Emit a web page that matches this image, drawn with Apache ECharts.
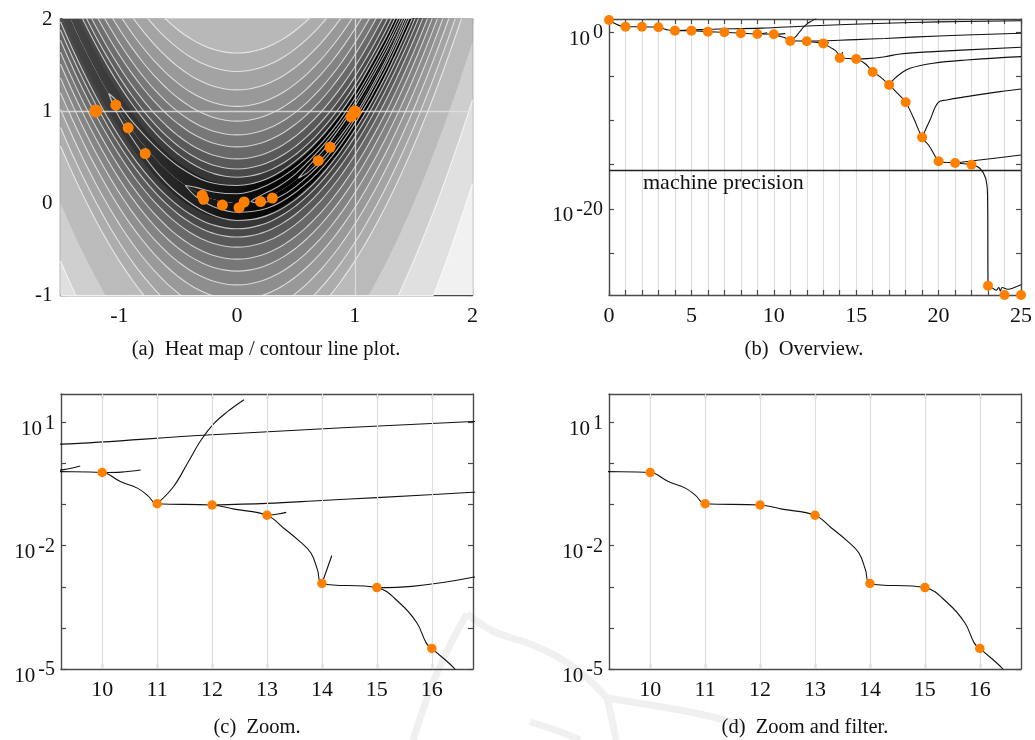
<!DOCTYPE html>
<html>
<head>
<meta charset="utf-8">
<title>Rosenbrock optimisation figure</title>
<script src="https://cdn.jsdelivr.net/npm/echarts@6/dist/echarts.min.js"></script>
<style>
  html, body { margin: 0; padding: 0; background: #fff; }
  #chart { width: 1035px; height: 740px; }
</style>
</head>
<body>
<div id="chart"></div>
<script>
// ---------- (a) heat map / contour lines ----------
// bottom of the valley, read along the dark band
var valleyX = [-1.5, -1.4, -1.3, -1.2, -1.1, -1.0, -0.9, -0.8, -0.7, -0.6, -0.5, -0.4, -0.3, -0.2, -0.1, 0,
  0.1, 0.2, 0.3, 0.4, 0.5, 0.6, 0.7, 0.8, 0.9, 1.0, 1.1, 1.2, 1.3, 1.4, 1.5, 1.6, 1.7, 1.8, 1.9, 2.0];
var valleyY = [2.25, 1.96, 1.69, 1.44, 1.21, 1.0, 0.81, 0.64, 0.49, 0.36, 0.25, 0.16, 0.09, 0.04, 0.01, 0,
  0.01, 0.04, 0.09, 0.16, 0.25, 0.36, 0.49, 0.64, 0.81, 1.0, 1.21, 1.44, 1.69, 1.96, 2.25, 2.56, 2.89, 3.24, 3.61, 4.0];
// vertical distance of the contour lines from the valley
var contourOffsets = [0.28, 0.37, 0.48, 0.61, 0.74, 0.89, 1.05, 1.23, 1.43, 1.63];
var farOffsets = [2.88, 3.79]; // only below the valley (lower right / lower left)
// closed contour loops around the valley
var loopA = [[1.35, 2.03], [1.25, 1.77], [1.0, 1.21], [0.75, 0.77], [0.5, 0.46], [0.25, 0.26], [0, 0.19], [-0.25, 0.23],
  [-0.5, 0.4], [-0.7, 0.62], [-0.9, 0.9], [-1.03, 1.12], [-1.09, 1.19], [-1.03, 1.0], [-0.9, 0.72], [-0.7, 0.36],
  [-0.5, 0.1], [-0.25, -0.11], [0, -0.19], [0.25, -0.14], [0.5, 0.04], [0.75, 0.35], [1.0, 0.79], [1.25, 1.35], [1.5, 2.04]];
var loopB = [[1.4, 2.1], [1.25, 1.7], [1.0, 1.14], [0.75, 0.7], [0.5, 0.39], [0.25, 0.19], [0, 0.1], [-0.2, 0.12],
  [-0.35, 0.17], [-0.44, 0.19], [-0.35, 0.07], [-0.2, -0.04], [0, -0.1], [0.25, -0.06], [0.5, 0.12], [0.75, 0.42],
  [1.0, 0.86], [1.25, 1.42], [1.5, 2.12]];
var loopC = [[1.4, 2.04], [1.25, 1.65], [1.0, 1.09], [0.75, 0.65], [0.5, 0.32], [0.35, 0.18], [0.2, 0.08], [0.12, 0.015],
  [0.2, 0.0], [0.35, 0.06], [0.5, 0.18], [0.75, 0.48], [1.0, 0.91], [1.25, 1.48], [1.4, 1.88], [1.5, 2.18]];
var loopD = [[1.42, 2.04], [1.25, 1.6], [1.0, 1.05], [0.75, 0.6], [0.6, 0.39], [0.52, 0.27], [0.6, 0.33], [0.75, 0.52],
  [1.0, 0.95], [1.25, 1.52], [1.4, 1.93], [1.48, 2.18]];
// iterates in the x/y plane
var iterPlaneX = [-1.2, -1.03, -0.925, -0.78, -0.296, -0.284, -0.125, 0.017, 0.06, 0.2, 0.30, 0.69, 0.79, 0.967, 1.0];
var iterPlaneY = [1.0, 1.065, 0.817, 0.537, 0.083, 0.04, -0.022, -0.051, 0.011, 0.015, 0.054, 0.46, 0.606, 0.936, 0.99];
var optimum = [1, 1];

// ---------- (b)-(d) residual per iteration, log10 ----------
var iterX = [0, 1, 2, 3, 4, 5, 6, 7, 8, 9, 10, 11, 12, 13, 14, 15, 16, 17, 18, 19, 20, 21, 22, 23, 24, 25];
var iterLog = [1.39, 0.63, 0.63, 0.57, 0.18, 0.18, 0.07, 0.0, -0.11, -0.19, -0.22, -0.98, -1.01, -1.26, -2.92,
  -3.02, -4.5, -5.96, -7.92, -11.9, -14.6, -14.8, -15.0, -28.7, -29.75, -29.75];
// accepted path between the iterates
var pathX = [0, 1, 2, 3, 3.5, 4, 5, 6, 7, 8, 9, 10, 10.33, 10.64, 10.82, 11, 12, 12.4, 13, 13.3, 13.6, 13.8, 13.92, 14,
  15, 15.42, 15.73, 15.9, 16, 16.42, 17, 17.5, 18, 18.5, 19, 19.4, 19.75, 20, 21, 22, 22.5, 22.85, 22.97, 23.0, 23.3,
  23.5, 23.65, 23.75, 23.85, 24.2, 24.6, 25];
var pathY = [1.39, 0.63, 0.63, 0.57, 0.3, 0.18, 0.18, 0.07, 0.0, -0.11, -0.19, -0.22, -0.44, -0.6, -0.77, -0.98, -1.01,
  -1.11, -1.26, -1.57, -1.9, -2.18, -2.59, -2.92, -3.02, -3.4, -3.88, -4.37, -4.5, -5.0, -5.96, -6.9, -7.92, -9.8,
  -11.9, -12.8, -13.9, -14.6, -14.8, -15.0, -15.4, -16.5, -18.5, -28.7, -29.0, -29.2, -28.9, -29.3, -28.9, -29.1,
  -28.9, -28.6];
// discarded branches
var br4X = [4, 6, 9.25, 12, 16.75, 20, 25], br4Y = [0.18, 0.34, 0.47, 0.7, 1.02, 1.17, 1.31];
var br9X = [9, 9.3, 9.6], br9Y = [-0.19, -0.15, -0.06];
var br10X = [10, 10.35, 10.7], br10Y = [-0.22, -0.21, -0.16];
var br11X = [11, 11.3, 11.55, 11.8, 12.04, 12.28, 12.58], br11Y = [-0.98, -0.56, 0.0, 0.57, 0.98, 1.26, 1.55];
var br12X = [12, 13, 14, 15, 16.75, 20, 25], br12Y = [-1.01, -0.97, -0.9, -0.83, -0.7, -0.42, -0.11];
var br13X = [13, 13.2, 13.35], br13Y = [-1.26, -1.23, -1.19];
var br14X = [14, 14.18], br14Y = [-2.92, -2.24];
var br15X = [15, 15.64, 16.75, 17.66, 19.68, 25], br15Y = [-3.02, -2.99, -2.77, -2.46, -2.19, -1.7];
var br17X = [17, 17.25, 17.66, 18.26, 19.68, 21.7, 25], br17Y = [-5.96, -5.4, -4.72, -4.08, -3.51, -3.14, -2.76];
var br19X = [19, 19.48, 19.98, 20.49, 21.7, 23.73, 25], br19Y = [-11.9, -9.93, -7.93, -7.67, -7.29, -6.72, -6.42];
var br21X = [21, 23, 25], br21Y = [-14.8, -14.35, -13.9];
var machinePrecision = -15.65;
var zoomGridX = [10, 11, 12, 13, 14, 15, 16];

var FONT = 'Liberation Serif';
var AX = '#4a4a4a';
var ORANGE = '#ff8000';

function zip(xs, ys) { return xs.map(function (x, i) { return [x, ys[i]]; }); }
function shifted(off) { return valleyX.map(function (x, i) { return [x, valleyY[i] + off]; }); }
function gray(g) { return 'rgb(' + g + ',' + g + ',' + g + ')'; }
function hgrad(stops) {
  return { type: 'linear', x: 0, y: 0, x2: 1, y2: 0,
    colorStops: stops.map(function (s) { return { offset: s[0], color: s[1] }; }) };
}
function pow10(v) { return '{b|10}{s|' + v + '}'; }
var powRich = {
  b: { fontFamily: FONT, fontSize: 21, color: '#111' },
  s: { fontFamily: FONT, fontSize: 20, color: '#111', padding: [0, 0, 12, 3] }
};

function mkAxis(gi, pos, min, max, ticks, labels, fmt, extra) {
  var a = {
    type: 'value', gridIndex: gi, position: pos, min: min, max: max,
    axisLine: { show: true, onZero: false, lineStyle: { color: AX, width: 1.4 } },
    axisTick: { show: true, inside: true, length: 5, lineStyle: { color: AX, width: 1.2 } },
    axisLabel: { show: false },
    splitLine: { show: false }
  };
  if (ticks) a.axisTick.customValues = ticks;
  if (labels) {
    a.axisLabel = { show: true, customValues: labels, fontFamily: FONT, fontSize: 22, color: '#111',
      margin: 10, formatter: fmt, rich: powRich };
  }
  return Object.assign(a, extra || {});
}

var lab = function (v) { return String(v); };
var xAxes = [
  mkAxis(0, 'bottom', -1.5, 2, [-1, 0, 1, 2], [-1, 0, 1, 2], lab),
  mkAxis(0, 'top', -1.5, 2, [-1, 0, 1, 2]),
  mkAxis(1, 'bottom', 0, 25, null, [0, 5, 10, 15, 20, 25], lab,
    { interval: 1, splitLine: { show: true, lineStyle: { color: '#dedede', width: 1.2 } } }),
  mkAxis(1, 'top', 0, 25, null, null, null, { interval: 1 }),
  mkAxis(2, 'bottom', 9.25, 16.75, zoomGridX, zoomGridX, lab),
  mkAxis(2, 'top', 9.25, 16.75, zoomGridX),
  mkAxis(3, 'bottom', 9.25, 16.75, zoomGridX, zoomGridX, lab),
  mkAxis(3, 'top', 9.25, 16.75, zoomGridX)
];
var yA = mkAxis(0, 'left', -1, 2, [-1, 0, 1, 2], [-1, 0, 1, 2], lab);
yA.axisLabel.fontSize = 21;
yA.axisLabel.margin = 8;
var zoomTicks = [-5, -4, -3, -2, -1, 0, 1];
var yAxes = [
  yA,
  mkAxis(0, 'right', -1, 2, [-1, 0, 1, 2]),
  mkAxis(1, 'left', -29.75, 1.5, [-25, -20, -15, -10, -5, 0], [-20, 0], pow10),
  mkAxis(1, 'right', -29.75, 1.5, [-25, -20, -15, -10, -5, 0]),
  mkAxis(2, 'left', -5, 1.69, zoomTicks, [-5, -2, 1], pow10),
  mkAxis(2, 'right', -5, 1.69, zoomTicks),
  mkAxis(3, 'left', -5, 1.69, zoomTicks, [-5, -2, 1], pow10),
  mkAxis(3, 'right', -5, 1.69, zoomTicks)
];
[2, 4, 6].forEach(function (i) {
  yAxes[i].axisLabel.margin = 6;
  yAxes[i].axisLabel.padding = [14, 0, 0, 0];
});

var series = [];

// ----- (a) grey bands between the contour levels -----
function area(pts, origin, color) {
  series.push({ type: 'line', xAxisIndex: 0, yAxisIndex: 0, data: pts, smooth: true, symbol: 'none',
    silent: true, lineStyle: { opacity: 0 }, areaStyle: { origin: origin, color: color, opacity: 1 }, z: 1 });
}
var core = hgrad([[0, '#474747'], [0.143, '#383838'], [0.286, '#242424'], [0.43, '#101010'], [0.52, '#040404'], [0.6, '#000'], [1, '#000']]);
area(shifted(0), 'end', core);
area(shifted(0), 'start', core);
var bandOffsets = [0.19, 0.28, 0.37, 0.48, 0.61, 0.74, 0.89, 1.05, 1.23, 1.43, 1.63];
var bandBase = [54, 73, 89, 105, 119, 131, 142, 153, 163, 172, 184];
var bandLeft = [78, 90, 100, 112, 123, 134, 145, 155, 165, 174, 186];
bandOffsets.forEach(function (c, k) {
  area(shifted(c), 'end', hgrad([[0, gray(bandLeft[k])], [0.32, gray(bandBase[k])], [1, gray(bandBase[k])]]));
});
// below the valley the shading keeps going: one more shade step between 1.63 and 2.88
var belowOffsets = bandOffsets.concat([2.25]).concat(farOffsets);
var belowBase = bandBase.slice(0, 10).concat([186, 206, 224, 241]);
var belowLeft = bandLeft.slice(0, 10).concat([188, 207, 224, 241]);
belowOffsets.forEach(function (c, k) {
  area(shifted(-c), 'start', hgrad([[0, gray(belowLeft[k])], [0.32, gray(belowBase[k])], [1, gray(belowBase[k])]]));
});

// ----- (a) contour lines -----
function contour(pts, sm) {
  series.push({ type: 'line', xAxisIndex: 0, yAxisIndex: 0, data: pts, smooth: sm, symbol: 'none', silent: true,
    lineStyle: { color: 'rgba(255,255,255,0.68)', width: 1.1 }, z: 2 });
}
contourOffsets.forEach(function (c) { contour(shifted(c), true); contour(shifted(-c), true); });
farOffsets.forEach(function (c) { contour(shifted(-c), true); });
[loopA, loopB, loopC, loopD].forEach(function (l) { contour(l, 0.3); });

var lastA = iterPlaneX.length - 1;
series.push({ type: 'scatter', xAxisIndex: 0, yAxisIndex: 0, data: zip(iterPlaneX, iterPlaneY),
  symbolSize: function (v, p) { return (p.dataIndex === 0 || p.dataIndex === lastA) ? 13 : 11; },
  itemStyle: { color: ORANGE, opacity: 1 }, z: 5,
  markLine: { silent: true, symbol: 'none', label: { show: false }, animation: false,
    lineStyle: { color: 'rgba(225,225,225,0.85)', width: 1.3, type: 'solid' },
    data: [{ xAxis: optimum[0] }, { yAxis: optimum[1] }] } });

// ----- (b)-(d) -----
var branchList = [[br4X, br4Y], [br9X, br9Y], [br10X, br10Y], [br11X, br11Y], [br12X, br12Y], [br13X, br13Y],
  [br14X, br14Y], [br15X, br15Y], [br17X, br17Y], [br19X, br19Y], [br21X, br21Y]];
function trace(idx, pts, sm, extra) {
  series.push(Object.assign({ type: 'line', xAxisIndex: idx, yAxisIndex: idx, data: pts, smooth: sm,
    symbol: 'none', silent: true, lineStyle: { color: '#111', width: 1.1 }, z: 3 }, extra || {}));
}
[2, 4, 6].forEach(function (idx) {
  var extra = {};
  if (idx === 2) {
    extra.markLine = { silent: true, symbol: 'none', label: { show: false }, animation: false,
      lineStyle: { color: '#222', width: 1.3, type: 'solid' }, data: [{ yAxis: machinePrecision }] };
  }
  trace(idx, zip(pathX, pathY), 0.4, extra);
  if (idx !== 6) branchList.forEach(function (b) { trace(idx, zip(b[0], b[1]), 0.4); });
  if (idx !== 2) {
    series.push({ type: 'line', xAxisIndex: idx, yAxisIndex: idx, data: zip(iterX, iterLog), symbol: 'none',
      silent: true, lineStyle: { opacity: 0 }, z: 1,
      markLine: { silent: true, symbol: 'none', label: { show: false }, animation: false,
        lineStyle: { color: '#dedede', width: 1.2, type: 'solid' },
        data: zoomGridX.map(function (v) { return { xAxis: v }; }) } });
  }
  series.push({ type: 'scatter', xAxisIndex: idx, yAxisIndex: idx, data: zip(iterX, iterLog),
    symbolSize: idx === 2 ? 10 : 9.5, itemStyle: { color: ORANGE, opacity: 1 }, z: 5 });
});

var capStyle = { fontFamily: FONT, fontSize: 20.5, fontWeight: 'normal', color: '#111' };
var wm = { stroke: '#f0f0f0', lineWidth: 7, fill: null };
var option = {
  animation: false,
  backgroundColor: '#fff',
  title: [
    { text: '(a)  Heat map / contour line plot.', left: 266, top: 339, textAlign: 'center', padding: 0, textStyle: capStyle },
    { text: '(b)  Overview.', left: 804, top: 339, textAlign: 'center', padding: 0, textStyle: capStyle },
    { text: '(c)  Zoom.', left: 257, top: 717, textAlign: 'center', padding: 0, textStyle: capStyle },
    { text: '(d)  Zoom and filter.', left: 805, top: 717, textAlign: 'center', padding: 0, textStyle: capStyle },
    { text: 'machine precision', left: 643, top: 172, padding: 0,
      textStyle: { fontFamily: FONT, fontSize: 22, fontWeight: 'normal', color: '#111' } }
  ],
  // faint publisher watermark behind the lower panels
  graphic: [
    { type: 'polyline', silent: true, z: -10, shape: { smooth: 0.4, points: [[413, 740], [432, 685], [450, 645], [467, 614]] }, style: wm },
    { type: 'polyline', silent: true, z: -10, shape: { smooth: 0.4, points: [[467, 614], [495, 632], [535, 646], [575, 668], [607, 698]] }, style: wm },
    { type: 'polyline', silent: true, z: -10, shape: { smooth: 0.4, points: [[607, 698], [650, 705], [700, 714], [745, 726]] }, style: wm },
    { type: 'polyline', silent: true, z: -10, shape: { smooth: 0.4, points: [[607, 698], [612, 720], [616, 740]] }, style: wm },
    { type: 'polyline', silent: true, z: -10, shape: { smooth: 0.4, points: [[530, 722], [558, 731], [580, 740]] }, style: wm }
  ],
  grid: [
    { left: 60.5, top: 19, width: 412, height: 276 },
    { left: 609, top: 19, width: 412, height: 276 },
    { left: 61, top: 394, width: 412, height: 275 },
    { left: 609, top: 394, width: 412, height: 275 }
  ],
  xAxis: xAxes,
  yAxis: yAxes,
  series: series
};

var chart = echarts.init(document.getElementById('chart'));
chart.setOption(option);
</script>
</body>
</html>
